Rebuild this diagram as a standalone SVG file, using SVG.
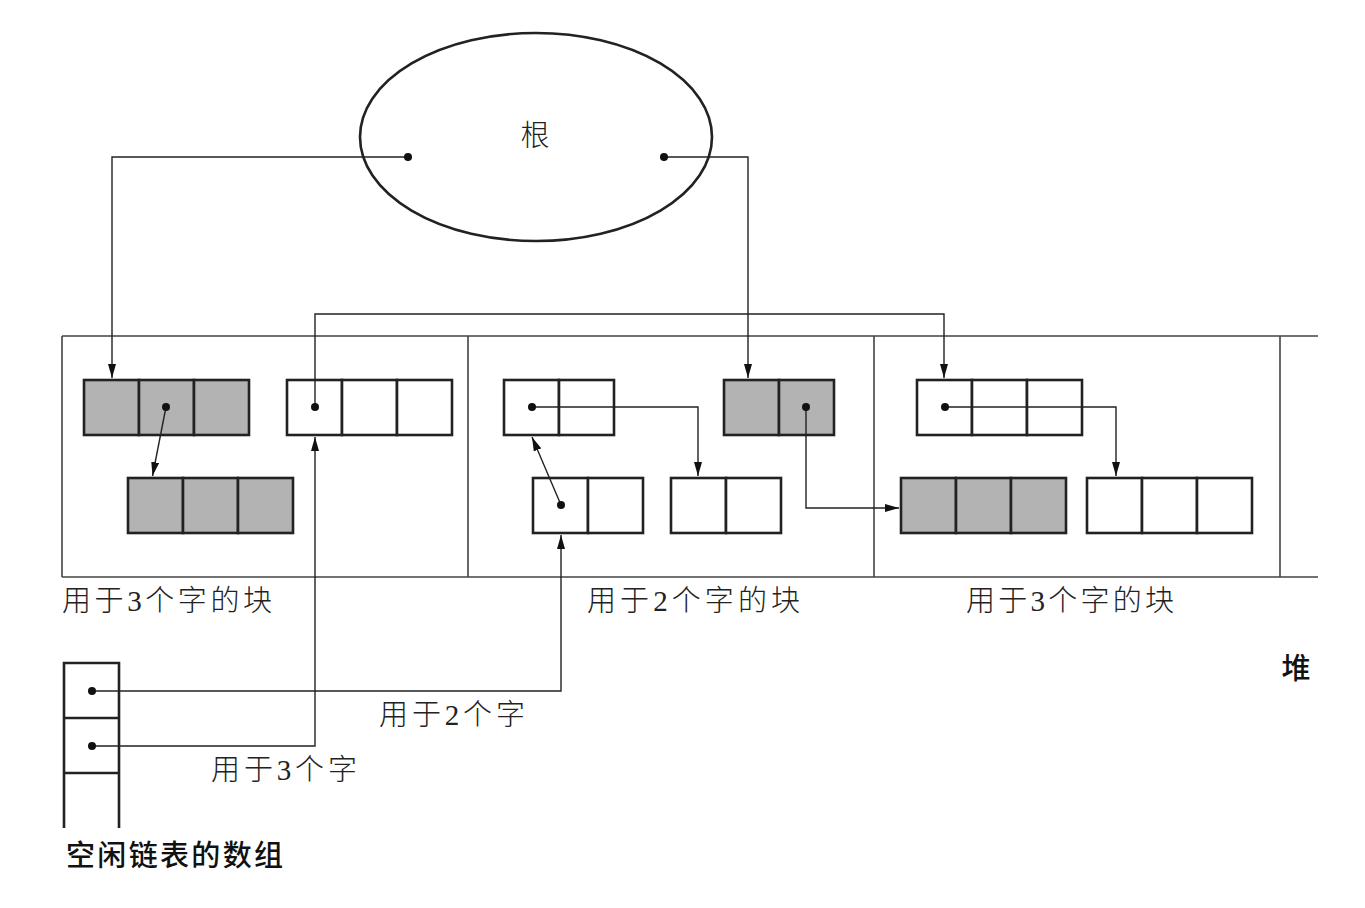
<svg xmlns="http://www.w3.org/2000/svg" width="1365" height="908" viewBox="0 0 1365 908">
<style>
.cell{fill:#fff;stroke:#222;stroke-width:2.6}
.g .cell{fill:#b3b3b3}
.heap{stroke:#444;stroke-width:1.6;fill:none}
.con{stroke:#222;stroke-width:1.4;fill:none}
.arr{marker-end:url(#ah)}
.dot{fill:#111}
.lbl{font-family:"Liberation Serif","Noto Sans CJK SC",serif;font-size:29px;fill:#222;font-weight:300}
.hei{font-family:"Noto Sans CJK SC","Liberation Sans",sans-serif;font-size:29px;fill:#111;font-weight:500}
</style>
<defs>
<marker id="ah" viewBox="0 0 14 8" refX="14" refY="4" markerWidth="14" markerHeight="8" orient="auto" markerUnits="userSpaceOnUse">
<path d="M0,0 L14,4 L0,8 z" fill="#111"/>
</marker>
</defs>
<rect width="1365" height="908" fill="#fff"/>

<g id="root">
<ellipse cx="536" cy="137" rx="176" ry="104" fill="none" stroke="#222" stroke-width="2.6"/>
<text class="lbl" x="535" y="146" text-anchor="middle">根</text>
</g>

<g id="heap">
<path class="heap" d="M62,336 H1318 M62,577 H1318 M62,336 V577 M468,336 V577 M874,336 V577 M1280,336 V577"/>
<text class="hei" x="1296" y="679" text-anchor="middle">堆</text>
</g>

<g id="block-a-top" class="g">
<rect class="cell" x="84" y="380" width="55" height="55"/>
<rect class="cell" x="139" y="380" width="55" height="55"/>
<rect class="cell" x="194" y="380" width="55" height="55"/>
</g>
<g id="block-a-bottom" class="g">
<rect class="cell" x="128" y="478" width="55" height="55"/>
<rect class="cell" x="183" y="478" width="55" height="55"/>
<rect class="cell" x="238" y="478" width="55" height="55"/>
</g>
<g id="block-a-free">
<rect class="cell" x="287" y="380" width="55" height="55"/>
<rect class="cell" x="342" y="380" width="55" height="55"/>
<rect class="cell" x="397" y="380" width="55" height="55"/>
</g>

<g id="block-b-top">
<rect class="cell" x="504" y="380" width="55" height="55"/>
<rect class="cell" x="559" y="380" width="55" height="55"/>
</g>
<g id="block-b-bottom">
<rect class="cell" x="533" y="478" width="55" height="55"/>
<rect class="cell" x="588" y="478" width="55" height="55"/>
</g>
<g id="block-b-right">
<rect class="cell" x="671" y="478" width="55" height="55"/>
<rect class="cell" x="726" y="478" width="55" height="55"/>
</g>
<g id="block-b-used" class="g">
<rect class="cell" x="724" y="380" width="55" height="55"/>
<rect class="cell" x="779" y="380" width="55" height="55"/>
</g>

<g id="block-c-top">
<rect class="cell" x="917" y="380" width="55" height="55"/>
<rect class="cell" x="972" y="380" width="55" height="55"/>
<rect class="cell" x="1027" y="380" width="55" height="55"/>
</g>
<g id="block-c-used" class="g">
<rect class="cell" x="901" y="478" width="55" height="55"/>
<rect class="cell" x="956" y="478" width="55" height="55"/>
<rect class="cell" x="1011" y="478" width="55" height="55"/>
</g>
<g id="block-c-right">
<rect class="cell" x="1087" y="478" width="55" height="55"/>
<rect class="cell" x="1142" y="478" width="55" height="55"/>
<rect class="cell" x="1197" y="478" width="55" height="55"/>
</g>

<g id="freelist">
<path d="M64,828 V663 H119 V828 M64,718 H119 M64,773 H119" fill="none" stroke="#222" stroke-width="2.6"/>
<text class="hei" x="66" y="866" textLength="217" lengthAdjust="spacing">空闲链表的数组</text>
</g>

<g id="connectors">
<path class="con arr" d="M408,157 H112 V378"/>
<path class="con arr" d="M664,157 H748 V378"/>
<path class="con arr" d="M166,407 L152.5,476"/>
<path class="con arr" d="M315,407 V314 H944 V378"/>
<path class="con arr" d="M532,407 H698 V476"/>
<path class="con arr" d="M561,505 L532,437"/>
<path class="con arr" d="M806,407 V508 H899"/>
<path class="con arr" d="M945,407 H1116 V476"/>
<path class="con arr" d="M92,691 H561 V535"/>
<path class="con arr" d="M92,746 H315 V437"/>
<circle class="dot" cx="408" cy="157" r="4"/>
<circle class="dot" cx="664" cy="157" r="4"/>
<circle class="dot" cx="166" cy="407" r="4"/>
<circle class="dot" cx="315" cy="407" r="4"/>
<circle class="dot" cx="532" cy="407" r="4"/>
<circle class="dot" cx="561" cy="505" r="4"/>
<circle class="dot" cx="806" cy="407" r="4"/>
<circle class="dot" cx="945" cy="407" r="4"/>
<circle class="dot" cx="92" cy="691" r="4"/>
<circle class="dot" cx="92" cy="746" r="4"/>
</g>

<g id="labels">
<text class="lbl" x="62" y="611" textLength="210" lengthAdjust="spacing">用于3个字的块</text>
<text class="lbl" x="587" y="611" textLength="213" lengthAdjust="spacing">用于2个字的块</text>
<text class="lbl" x="966" y="611" textLength="208" lengthAdjust="spacing">用于3个字的块</text>
<text class="lbl" x="379" y="725" textLength="146" lengthAdjust="spacing">用于2个字</text>
<text class="lbl" x="211" y="780" textLength="146" lengthAdjust="spacing">用于3个字</text>
</g>
</svg>
